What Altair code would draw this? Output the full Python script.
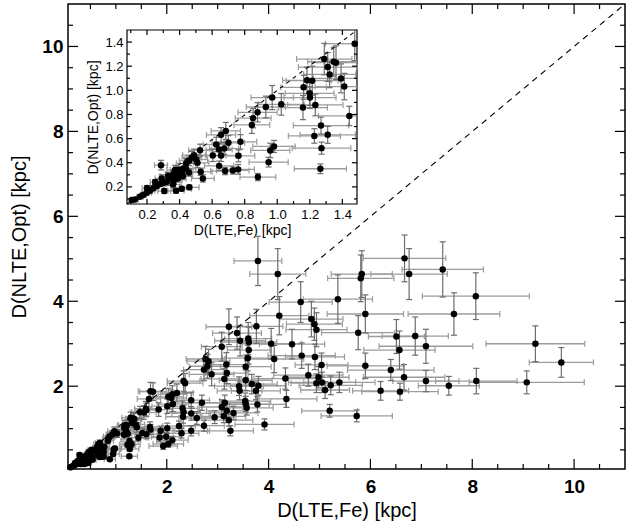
import altair as alt
import pandas as pd

# ---------------- data ----------------
X = [9.24, 9.75, 8.08, 9.07, 7.42, 6.76, 5.83, 5.81, 5.36, 8.07, 7.64, 5.90, 5.76, 6.51, 6.88, 7.09, 6.57, 5.90, 6.40, 6.66,
     7.09, 7.54, 6.20, 6.58, 5.20, 5.73, 6.67, 4.94, 4.90, 4.84, 4.91, 5.04, 4.98, 4.94, 5.05, 5.11, 5.22, 5.39, 3.79, 4.18,
     4.63, 4.21, 3.22, 3.76, 3.38, 3.44, 3.60, 3.61, 3.61, 4.05, 4.46, 3.08, 3.59, 4.11, 4.65, 2.76, 2.82, 2.80, 2.73, 2.88,
     3.17, 3.18, 3.55, 3.13, 3.55, 3.42, 3.43, 3.67, 3.80, 3.75, 4.33, 4.35, 4.78, 2.48, 2.69, 2.48, 2.59, 2.73, 2.48, 2.94,
     3.08, 3.14, 3.12, 3.18, 3.22, 3.25, 3.31, 3.54, 3.55, 3.57, 3.78, 3.92, 2.33, 2.36, 1.68, 1.73, 1.65, 2.03, 2.11, 2.20,
     2.01, 2.12, 1.84, 1.59, 1.55, 2.33, 2.32, 2.31, 2.24, 2.29, 1.88, 2.01, 1.86, 1.99, 1.93, 2.11, 2.03, 1.68, 1.60, 1.52,
     1.67, 2.09, 1.60,
     1.476, 1.289, 1.347, 1.361, 1.310, 1.322, 1.392, 1.412, 1.183, 1.215, 1.162, 1.199, 1.201, 1.234, 1.158, 0.969, 1.025,
     0.930, 0.879, 0.852, 0.844, 1.443, 1.269, 1.228, 1.310, 1.272, 1.265, 0.980, 0.957, 0.947, 0.881, 0.684, 0.655, 0.700,
     0.625, 0.674, 0.643, 0.774, 0.604, 0.655, 0.762, 0.643, 0.680, 0.727, 0.760, 0.526, 0.489, 0.475, 0.502, 0.458, 0.440,
     0.510, 0.530, 0.543, 0.458, 0.460, 0.286, 0.372, 0.393, 0.413, 0.423, 0.362, 0.383, 0.403, 0.341, 0.366, 0.321, 0.300,
     0.280, 0.260, 0.239, 0.218, 0.198, 0.177, 0.157, 0.126, 0.106, 0.306, 0.378, 0.413, 0.330, 0.290, 0.250, 0.360, 0.420,
     0.440, 0.200, 0.390]
Y = [3.00, 2.56, 2.12, 2.09, 4.75, 4.64, 4.64, 4.54, 4.05, 4.12, 3.70, 3.70, 3.26, 3.17, 3.18, 2.94, 2.85, 2.48, 2.38, 2.21,
     2.12, 2.01, 1.89, 1.87, 1.42, 1.30, 5.01, 3.33, 3.46, 3.58, 2.69, 2.50, 2.21, 2.07, 2.09, 1.91, 2.02, 2.09, 4.95, 4.64,
     3.98, 3.66, 3.40, 3.41, 3.25, 3.07, 3.12, 3.04, 2.85, 3.00, 2.99, 2.93, 2.66, 2.64, 2.72, 2.64, 2.59, 2.47, 2.39, 2.28,
     2.51, 2.31, 2.46, 2.17, 2.14, 2.00, 1.89, 2.05, 2.01, 1.89, 2.18, 1.70, 2.26, 1.67, 1.61, 1.36, 1.25, 1.07, 0.95, 1.27,
     1.51, 1.61, 1.29, 1.42, 1.20, 0.95, 1.37, 1.65, 1.58, 1.49, 1.57, 1.10, 2.12, 2.07, 1.88, 1.87, 1.70, 1.75, 1.81, 1.84,
     1.53, 1.58, 1.45, 1.47, 1.38, 1.39, 1.28, 1.48, 1.06, 0.89, 0.95, 1.01, 0.79, 0.81, 0.59, 0.73, 0.64, 0.98, 0.87, 0.90,
     1.04, 1.72, 1.44,
     1.386, 1.259, 1.237, 1.229, 1.193, 1.132, 1.099, 1.031, 1.083, 1.080, 1.025, 0.975, 0.940, 0.879, 0.857, 0.940, 0.884,
     0.862, 0.818, 0.769, 0.713, 0.788, 0.708, 0.622, 0.631, 0.521, 0.350, 0.535, 0.502, 0.405, 0.281, 0.664, 0.631, 0.565,
     0.551, 0.518, 0.510, 0.573, 0.460, 0.460, 0.457, 0.374, 0.331, 0.336, 0.345, 0.504, 0.463, 0.444, 0.427, 0.416, 0.394,
     0.399, 0.325, 0.270, 0.320, 0.196, 0.380, 0.339, 0.339, 0.325, 0.353, 0.306, 0.298, 0.312, 0.270, 0.256, 0.242, 0.234,
     0.223, 0.207, 0.188, 0.168, 0.151, 0.132, 0.118, 0.096, 0.091, 0.165, 0.168, 0.184, 0.290, 0.270, 0.240, 0.220, 0.290,
     0.350, 0.190, 0.270]
XERR = [0.97, 0.63, 0.80, 1.13, 0.80, 0.75, 0.60, 0.65, 0.68, 1.05, 0.90, 0.75, 0.72, 0.55, 0.65, 0.92, 0.70, 0.75, 0.85, 0.80,
        0.65, 0.60, 0.55, 0.75, 0.55, 0.70, 0.81, 0.60, 0.55, 0.62, 0.58, 0.52, 0.60, 0.50, 0.66, 0.48, 0.62, 0.70, 0.47, 0.55,
        0.62, 0.58, 0.45, 0.52, 0.48, 0.50, 0.46, 0.55, 0.42, 0.60, 0.64, 0.40, 0.50, 0.58, 0.66, 0.38, 0.42, 0.36, 0.40, 0.44,
        0.45, 0.42, 0.50, 0.46, 0.52, 0.48, 0.44, 0.50, 0.55, 0.48, 0.62, 0.60, 0.68, 0.36, 0.40, 0.38, 0.35, 0.40, 0.36, 0.42,
        0.44, 0.46, 0.43, 0.40, 0.47, 0.45, 0.48, 0.50, 0.46, 0.52, 0.55, 0.58, 0.32, 0.35, 0.24, 0.26, 0.23, 0.30, 0.28, 0.32,
        0.30, 0.31, 0.27, 0.22, 0.24, 0.33, 0.34, 0.30, 0.32, 0.34, 0.28, 0.30, 0.27, 0.29, 0.28, 0.31, 0.30, 0.25, 0.23, 0.22,
        0.24, 0.30, 0.23,
        0.18, 0.17, 0.16, 0.15, 0.18, 0.16, 0.17, 0.18, 0.15, 0.16, 0.14, 0.15, 0.16, 0.17, 0.15, 0.13, 0.14,
        0.12, 0.12, 0.11, 0.11, 0.19, 0.17, 0.16, 0.17, 0.18, 0.16, 0.13, 0.12, 0.12, 0.11, 0.09, 0.09, 0.10,
        0.08, 0.09, 0.08, 0.10, 0.08, 0.09, 0.10, 0.09, 0.09, 0.10, 0.10, 0.07, 0.07, 0.06, 0.07, 0.06, 0.06,
        0.07, 0.07, 0.07, 0.06, 0.06, 0.04, 0.05, 0.05, 0.06, 0.06, 0.05, 0.05, 0.05, 0.05, 0.05, 0.04, 0.04,
        0.04, 0.04, 0.03, 0.03, 0.03, 0.02, 0.02, 0.02, 0.01, 0.04, 0.05, 0.06, 0.05, 0.04, 0.03, 0.05, 0.06,
        0.06, 0.03, 0.05]
YERR = [0.42, 0.35, 0.30, 0.27, 0.65, 0.60, 0.55, 0.55, 0.57, 0.55, 0.50, 0.45, 0.40, 0.40, 0.45, 0.40, 0.45, 0.30, 0.25, 0.30,
        0.25, 0.22, 0.22, 0.20, 0.15, 0.14, 0.55, 0.40, 0.38, 0.42, 0.30, 0.28, 0.25, 0.22, 0.24, 0.20, 0.22, 0.24, 0.58, 0.60,
        0.48, 0.45, 0.42, 0.40, 0.38, 0.36, 0.38, 0.35, 0.33, 0.36, 0.35, 0.34, 0.30, 0.32, 0.30, 0.30, 0.28, 0.28, 0.26, 0.27,
        0.28, 0.25, 0.27, 0.24, 0.24, 0.22, 0.21, 0.23, 0.22, 0.21, 0.25, 0.20, 0.26, 0.19, 0.18, 0.16, 0.15, 0.13, 0.12, 0.15,
        0.17, 0.18, 0.15, 0.16, 0.14, 0.12, 0.16, 0.19, 0.18, 0.17, 0.18, 0.13, 0.24, 0.23, 0.21, 0.21, 0.19, 0.20, 0.20, 0.21,
        0.17, 0.18, 0.16, 0.17, 0.16, 0.16, 0.15, 0.17, 0.12, 0.11, 0.11, 0.12, 0.10, 0.10, 0.08, 0.09, 0.08, 0.12, 0.11, 0.11,
        0.12, 0.19, 0.16,
        0.14, 0.13, 0.12, 0.14, 0.12, 0.11, 0.12, 0.11, 0.11, 0.12, 0.10, 0.10, 0.09, 0.09, 0.10, 0.10, 0.09,
        0.09, 0.08, 0.08, 0.07, 0.08, 0.07, 0.06, 0.07, 0.05, 0.04, 0.05, 0.06, 0.04, 0.03, 0.07, 0.06, 0.06,
        0.06, 0.05, 0.05, 0.06, 0.05, 0.05, 0.05, 0.04, 0.03, 0.03, 0.04, 0.05, 0.05, 0.05, 0.04, 0.04, 0.04,
        0.04, 0.03, 0.03, 0.03, 0.02, 0.04, 0.04, 0.03, 0.03, 0.04, 0.03, 0.03, 0.03, 0.03, 0.03, 0.03, 0.02,
        0.02, 0.02, 0.02, 0.02, 0.02, 0.01, 0.01, 0.01, 0.01, 0.02, 0.02, 0.02, 0.03, 0.03, 0.02, 0.02, 0.03,
        0.04, 0.02, 0.03]

MAIN_X_DOMAIN = [0.06, 11.0]
MAIN_Y_DOMAIN = [0.05, 11.0]
IN_X_DOMAIN = [0.077, 1.49]
IN_Y_DOMAIN = [0.058, 1.5]

MAIN_MAJOR = [2, 4, 6, 8, 10]
MAIN_MINOR = [0.5, 1, 1.5, 2.5, 3, 3.5, 4.5, 5, 5.5, 6.5, 7, 7.5, 8.5, 9, 9.5, 10.5]
IN_MAJOR = [0.2, 0.4, 0.6, 0.8, 1.0, 1.2, 1.4]
IN_MINOR = [0.1, 0.3, 0.5, 0.7, 0.9, 1.1, 1.3]
ONE_TO_ONE_MAIN = [0.0, 11.0]
ONE_TO_ONE_IN = [0.0, 1.5]

X_TITLE = "D(LTE,Fe) [kpc]"
Y_TITLE = "D(NLTE,Opt) [kpc]"

# ---------------- layout ----------------
W, H = 557, 465
IN_X_RANGE = [59, 289]
IN_Y_RANGE = [200, 26]
FONT = "Liberation Sans"
XBAR = "#9c9c9c"
YBAR = "#6e6e6e"

df = pd.DataFrame({"x": X, "y": Y, "xe": XERR, "ye": YERR})
df["xlo"] = df.x - df.xe
df["xhi"] = df.x + df.xe
df["ylo"] = df.y - df.ye
df["yhi"] = df.y + df.ye


def panel(data, xdom, ydom, sx, sy, ax, ay, major, minor, maj_len, min_len, one, dash, dot, cap, frame):
    xmin, xmax = xdom
    ymin, ymax = ydom

    def X_(f):
        return alt.X(f, type="quantitative", scale=sx, axis=ax)

    def Y_(f):
        return alt.Y(f, type="quantitative", scale=sy, axis=ay)

    base = alt.Chart(data)
    layers = []
    if frame:
        fr = pd.DataFrame({"x0": [xmin], "x1": [xmax], "y0": [ymin], "y1": [ymax]})
        layers.append(alt.Chart(fr).mark_rect(fill="white", stroke="black", strokeWidth=1.2).encode(
            x=X_("x0"), x2="x1", y=Y_("y0"), y2="y1"))
    # error bars
    layers.append(base.mark_rule(color=XBAR, strokeWidth=1.3).encode(x=X_("xlo"), x2="xhi", y=Y_("y")))
    layers.append(base.transform_filter(f"datum.xlo >= {xmin}").mark_rule(
        color=XBAR, strokeWidth=1.2, yOffset=-cap, y2Offset=cap).encode(x=X_("xlo"), y=Y_("y"), y2="y"))
    layers.append(base.transform_filter(f"datum.xhi <= {xmax}").mark_rule(
        color=XBAR, strokeWidth=1.2, yOffset=-cap, y2Offset=cap).encode(x=X_("xhi"), y=Y_("y"), y2="y"))
    layers.append(base.mark_rule(color=YBAR, strokeWidth=1.2).encode(x=X_("x"), y=Y_("ylo"), y2="yhi"))
    layers.append(base.transform_filter(f"datum.ylo >= {ymin}").mark_rule(
        color=YBAR, strokeWidth=1.2, xOffset=-cap, x2Offset=cap).encode(x=X_("x"), x2="x", y=Y_("ylo")))
    layers.append(base.transform_filter(f"datum.yhi <= {ymax}").mark_rule(
        color=YBAR, strokeWidth=1.2, xOffset=-cap, x2Offset=cap).encode(x=X_("x"), x2="x", y=Y_("yhi")))
    # 1:1 line
    ln = pd.DataFrame({"v": one})
    layers.append(alt.Chart(ln).mark_line(color="black", strokeWidth=1.1, strokeDash=dash, clip=True).encode(
        x=X_("v"), y=Y_("v")))
    # points
    layers.append(base.mark_circle(size=dot, color="black", opacity=1).encode(x=X_("x"), y=Y_("y")))
    # inward ticks on all four sides
    for vals, ln_ in ((major, maj_len), (minor, min_len)):
        tx = pd.DataFrame({"t": [v for v in vals if xmin < v < xmax]})
        tx["b"] = ymin
        tx["u"] = ymax
        layers.append(alt.Chart(tx).mark_rule(color="black", strokeWidth=1.2, y2Offset=-ln_).encode(
            x=X_("t"), y=Y_("b"), y2="b"))
        layers.append(alt.Chart(tx).mark_rule(color="black", strokeWidth=1.2, y2Offset=ln_).encode(
            x=X_("t"), y=Y_("u"), y2="u"))
        ty = pd.DataFrame({"t": [v for v in vals if ymin < v < ymax]})
        ty["l"] = xmin
        ty["r"] = xmax
        layers.append(alt.Chart(ty).mark_rule(color="black", strokeWidth=1.2, x2Offset=ln_).encode(
            y=Y_("t"), x=X_("l"), x2="l"))
        layers.append(alt.Chart(ty).mark_rule(color="black", strokeWidth=1.2, x2Offset=-ln_).encode(
            y=Y_("t"), x=X_("r"), x2="r"))
    return alt.layer(*layers)


main_sx = alt.Scale(domain=MAIN_X_DOMAIN, nice=False, zero=False, clamp=True)
main_sy = alt.Scale(domain=MAIN_Y_DOMAIN, nice=False, zero=False, clamp=True)
main_ax = alt.Axis(values=MAIN_MAJOR, ticks=False, domain=False, grid=False, labelFont=FONT,
                   labelFontSize=19, labelFontWeight="bold", labelColor="black", labelPadding=8,
                   labelOverlap=False, title=X_TITLE, titleFont=FONT, titleFontSize=20,
                   titleFontWeight="normal", titleColor="black", titlePadding=4)
main_ay = alt.Axis(values=MAIN_MAJOR, ticks=False, domain=False, grid=False, labelFont=FONT,
                   labelFontSize=19, labelFontWeight="bold", labelColor="black", labelPadding=5,
                   labelOverlap=False, title=Y_TITLE, titleFont=FONT, titleFontSize=20,
                   titleFontWeight="normal", titleColor="black", titlePadding=12)

in_sx = alt.Scale(domain=IN_X_DOMAIN, range=IN_X_RANGE, nice=False, zero=False, clamp=True)
in_sy = alt.Scale(domain=IN_Y_DOMAIN, range=IN_Y_RANGE, nice=False, zero=False, clamp=True)
in_ax = alt.Axis(orient="bottom", offset=-(H - IN_Y_RANGE[0]), values=IN_MAJOR, format=".1f", ticks=False,
                 domain=False, grid=False, labelFont=FONT, labelFontSize=13, labelColor="black",
                 labelPadding=4, labelOverlap=False, title=X_TITLE, titleFont=FONT, titleFontSize=14,
                 titleFontWeight="normal", titleColor="black", titlePadding=2)
in_ay = alt.Axis(orient="left", offset=-IN_X_RANGE[0], values=IN_MAJOR, format=".1f", ticks=False,
                 domain=False, grid=False, labelFont=FONT, labelFontSize=13, labelColor="black",
                 labelPadding=4, labelOverlap=False, title=Y_TITLE, titleFont=FONT, titleFontSize=14,
                 titleFontWeight="normal", titleColor="black", titlePadding=4)

main = panel(df, MAIN_X_DOMAIN, MAIN_Y_DOMAIN, main_sx, main_sy, main_ax, main_ay,
             MAIN_MAJOR, MAIN_MINOR, 10, 5, ONE_TO_ONE_MAIN, [6, 5], 42, 3, False)
inset_df = df[(df.x <= IN_X_DOMAIN[1]) & (df.y <= IN_Y_DOMAIN[1])]
inset = panel(inset_df, IN_X_DOMAIN, IN_Y_DOMAIN, in_sx, in_sy, in_ax, in_ay,
              IN_MAJOR, IN_MINOR, 5, 3, ONE_TO_ONE_IN, [4, 4], 42, 3, True)

chart = alt.layer(main, inset).resolve_scale(x="independent", y="independent").properties(
    width=W, height=H,
    padding={"left": 68, "top": 4, "right": 1, "bottom": 58},
    autosize=alt.AutoSizeParams(type="none"),
    background="white",
).configure_view(stroke="black", strokeWidth=1.5)

chart.save("out.html", embed_options={"renderer": "svg", "actions": False})
